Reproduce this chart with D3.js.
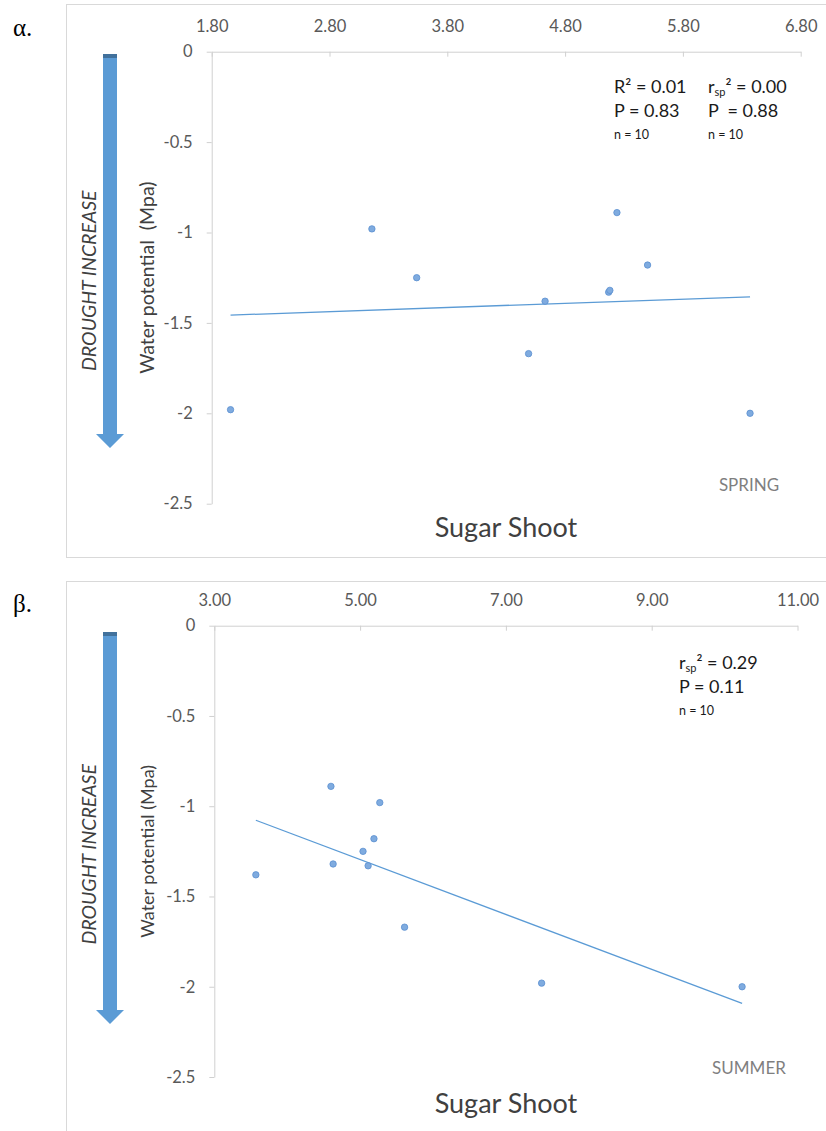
<!DOCTYPE html>
<html>
<head>
<meta charset="utf-8">
<script src="https://cdn.jsdelivr.net/npm/d3@7"></script>
<style>
  html, body { margin: 0; padding: 0; background: #fff; }
  svg { display: block; }
  text { white-space: pre; }
</style>
</head>
<body>
<script>
// Sugar content of shoots vs. leaf water potential, spring and summer samplings
const springSugar = [1.96, 3.16, 3.54, 4.49, 4.63, 5.17, 5.18, 5.24, 5.50, 6.37];
const springWater = [-1.98, -0.98, -1.25, -1.67, -1.38, -1.33, -1.32, -0.89, -1.18, -2.00];

const summerSugar = [3.57, 4.60, 4.63, 5.04, 5.11, 5.19, 5.27, 5.61, 7.49, 10.24];
const summerWater = [-1.38, -0.89, -1.32, -1.25, -1.33, -1.18, -0.98, -1.67, -1.98, -2.00];

const springTicksX = [1.8, 2.8, 3.8, 4.8, 5.8, 6.8];
const summerTicksX = [3, 5, 7, 9, 11];
const waterTicks = [0, -0.5, -1, -1.5, -2, -2.5];

const springStats = [
  { r: "R", sub: "", val: "0.01", p: "P = 0.83", n: "n = 10" },
  { r: "r", sub: "sp", val: "0.00", p: "P  = 0.88", n: "n = 10" }
];
const summerStats = [
  { r: "r", sub: "sp", val: "0.29", p: "P = 0.11", n: "n = 10" }
];

const W = 826, H = 1131;
const FONT = "Lato, 'Open Sans', sans-serif";
const BLUE = "#5b9bd5";

const svg = d3.select("body").append("svg").attr("width", W).attr("height", H);

const panels = [
  {
    letter: "\u03b1.", letterY: 36,
    frame: { x: 66.5, y: 4.5, h: 553 },
    xDomain: [1.8, 6.8], xRange: [211.7, 800.7], ticksX: springTicksX,
    yRange: [51.7, 503.7],
    sugar: springSugar, water: springWater,
    yTitle: "Water potential  (Mpa)", yTitleSize: 19.5,
    arrow: { top: 54, headBase: 434, tip: 448 },
    stats: springStats, statsX: [614, 708], statsY: 93,
    season: "SPRING", seasonX: 749, seasonY: 491,
    xTitleY: 537
  },
  {
    letter: "\u03b2.", letterY: 612,
    frame: { x: 66.5, y: 581.5, h: 570 },
    xDomain: [3, 11], xRange: [214.3, 797.5], ticksX: summerTicksX,
    yRange: [625.7, 1077],
    sugar: summerSugar, water: summerWater,
    yTitle: "Water potential (Mpa)", yTitleSize: 18,
    arrow: { top: 632, headBase: 1010, tip: 1024 },
    stats: summerStats, statsX: [679], statsY: 669,
    season: "SUMMER", seasonX: 749, seasonY: 1074,
    xTitleY: 1113
  }
];

function linearFit(xs, ys) {
  const n = xs.length;
  const mx = d3.mean(xs), my = d3.mean(ys);
  let sxy = 0, sxx = 0;
  for (let i = 0; i < n; i++) {
    sxy += (xs[i] - mx) * (ys[i] - my);
    sxx += (xs[i] - mx) * (xs[i] - mx);
  }
  const b = sxy / sxx;
  return { b, a: my - b * mx };
}

panels.forEach(p => {
  const g = svg.append("g");

  // panel frame
  g.append("rect")
    .attr("x", p.frame.x).attr("y", p.frame.y)
    .attr("width", W - p.frame.x + 10).attr("height", p.frame.h)
    .attr("fill", "none").attr("stroke", "#d9d9d9").attr("stroke-width", 1);

  // panel letter
  g.append("text")
    .attr("x", 13).attr("y", p.letterY)
    .attr("font-family", "'Liberation Serif', 'DejaVu Serif', serif")
    .attr("font-size", 25).attr("fill", "#000")
    .text(p.letter);

  const x = d3.scaleLinear().domain(p.xDomain).range(p.xRange);
  const y = d3.scaleLinear().domain([0, -2.5]).range(p.yRange);

  // top x axis
  const xAxis = d3.axisTop(x)
    .tickValues(p.ticksX)
    .tickFormat(d3.format(".2f"))
    .tickSizeInner(-5).tickSizeOuter(0).tickPadding(20);
  const gx = g.append("g").attr("transform", `translate(0,${p.yRange[0]})`).call(xAxis);
  gx.select(".domain").attr("stroke", "#d0d0d0");
  gx.selectAll(".tick line").attr("stroke", "#d0d0d0");
  gx.selectAll(".tick text")
    .attr("font-family", FONT).attr("font-size", 16.5).attr("fill", "#595959");

  // left y axis
  const yAxis = d3.axisLeft(y)
    .tickValues(waterTicks)
    .tickFormat(d => String(d))
    .tickSizeInner(5).tickSizeOuter(0).tickPadding(14);
  const gy = g.append("g").attr("transform", `translate(${p.xRange[0]},0)`).call(yAxis);
  gy.select(".domain").attr("stroke", "#d0d0d0");
  gy.selectAll(".tick line").attr("stroke", "#d0d0d0");
  gy.selectAll(".tick text")
    .attr("font-family", FONT).attr("font-size", 16.5).attr("fill", "#595959");

  // trend line over the data range
  const fit = linearFit(p.sugar, p.water);
  const [x0, x1] = d3.extent(p.sugar);
  g.append("line")
    .attr("x1", x(x0)).attr("y1", y(fit.a + fit.b * x0))
    .attr("x2", x(x1)).attr("y2", y(fit.a + fit.b * x1))
    .attr("stroke", BLUE).attr("stroke-width", 1.3);

  // points
  g.append("g").selectAll("circle")
    .data(d3.zip(p.sugar, p.water))
    .join("circle")
    .attr("cx", d => x(d[0])).attr("cy", d => y(d[1]))
    .attr("r", 3.2)
    .attr("fill", "#7fabdf").attr("stroke", "#5b8fd0").attr("stroke-width", 0.8);

  // y axis title
  const yMid = (p.yRange[0] + p.yRange[1]) / 2;
  g.append("text")
    .attr("transform", `translate(154,${yMid}) rotate(-90)`)
    .attr("text-anchor", "middle")
    .attr("font-family", FONT).attr("font-size", p.yTitleSize).attr("fill", "#404040")
    .text(p.yTitle);

  // drought arrow
  const cx = 110, sw = 7, hw = 14, a = p.arrow;
  g.append("path")
    .attr("d", `M${cx - sw},${a.top} L${cx + sw},${a.top} L${cx + sw},${a.headBase} L${cx + hw},${a.headBase} L${cx},${a.tip} L${cx - hw},${a.headBase} L${cx - sw},${a.headBase} Z`)
    .attr("fill", BLUE);
  g.append("rect")
    .attr("x", cx - sw).attr("y", a.top).attr("width", sw * 2).attr("height", 4)
    .attr("fill", "#41719c");

  g.append("text")
    .attr("transform", `translate(96,${yMid + 3}) rotate(-90)`)
    .attr("text-anchor", "middle")
    .attr("font-family", FONT).attr("font-size", 19.5).attr("font-style", "italic")
    .attr("fill", "#404040")
    .text("DROUGHT INCREASE");

  // statistics
  p.stats.forEach((s, i) => {
    const sx = p.statsX[i];
    const t = g.append("text")
      .attr("x", sx).attr("y", p.statsY)
      .attr("font-family", FONT).attr("font-size", 18).attr("fill", "#1a1a1a");
    t.append("tspan").text(s.r);
    if (s.sub) {
      t.append("tspan").attr("dy", 3).attr("font-size", 11).text(s.sub);
      t.append("tspan").attr("dy", -3).text("\u00b2 = " + s.val);
    } else {
      t.append("tspan").text("\u00b2 = " + s.val);
    }
    g.append("text")
      .attr("x", sx).attr("y", p.statsY + 24)
      .attr("font-family", FONT).attr("font-size", 18).attr("fill", "#1a1a1a")
      .text(s.p);
    g.append("text")
      .attr("x", sx).attr("y", p.statsY + 46)
      .attr("font-family", FONT).attr("font-size", 12.5).attr("fill", "#1a1a1a")
      .text(s.n);
  });

  // season tag
  g.append("text")
    .attr("x", p.seasonX).attr("y", p.seasonY)
    .attr("text-anchor", "middle")
    .attr("font-family", FONT).attr("font-size", 17).attr("fill", "#7f7f7f")
    .text(p.season);

  // x axis title
  g.append("text")
    .attr("x", 506).attr("y", p.xTitleY)
    .attr("text-anchor", "middle")
    .attr("font-family", FONT).attr("font-size", 27).attr("fill", "#404040")
    .text("Sugar Shoot");
});
</script>
</body>
</html>
